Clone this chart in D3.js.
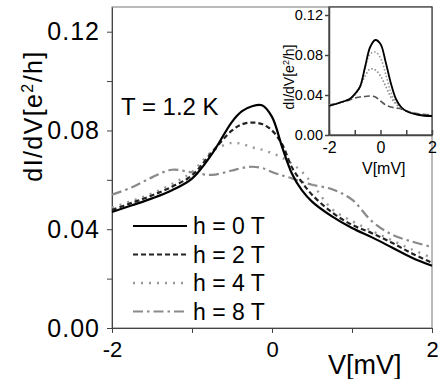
<!DOCTYPE html>
<html>
<head>
<meta charset="utf-8">
<script src="https://cdn.jsdelivr.net/npm/d3@7"></script>
<style>
  body { margin: 0; background: #fff; }
  svg { display: block; font-family: 'Liberation Sans', Arial, sans-serif; }
  .domain { stroke: #444; }
  .tick line { stroke: #444; }
</style>
</head>
<body>
<div id="container"></div>
<script>
// main panel: dI/dV vs V for several fields
const voltages = [-2, -1.75, -1.5, -1.25, -1, -0.75, -0.5, -0.375, -0.25, -0.125, 0,
  0.125, 0.25, 0.375, 0.5, 0.75, 1, 1.25, 1.5, 1.75, 2];
const h0 = [0.047, 0.0497, 0.0525, 0.0558, 0.0605, 0.0705, 0.0835, 0.0878, 0.0898, 0.0902, 0.0855,
  0.0735, 0.0625, 0.0557, 0.0512, 0.0452, 0.0405, 0.0367, 0.0326, 0.0285, 0.0252];
const h2 = [0.0478, 0.0507, 0.0537, 0.0572, 0.0618, 0.0712, 0.08, 0.0825, 0.0832, 0.0826, 0.08,
  0.0745, 0.065, 0.059, 0.054, 0.0468, 0.0418, 0.0384, 0.0345, 0.0302, 0.0264];
const h4 = [0.0488, 0.0515, 0.0545, 0.0583, 0.0632, 0.0715, 0.075, 0.0745, 0.0732, 0.0722, 0.0708,
  0.069, 0.0665, 0.0632, 0.0585, 0.0482, 0.0433, 0.0393, 0.0355, 0.0318, 0.0284];
const h8 = [0.054, 0.057, 0.061, 0.0641, 0.063, 0.062, 0.0638, 0.0648, 0.0653, 0.0648, 0.0632,
  0.0618, 0.0606, 0.0592, 0.058, 0.0562, 0.052, 0.0432, 0.0378, 0.035, 0.0328];
const legendLabels = ['h = 0 T', 'h = 2 T', 'h = 4 T', 'h = 8 T'];

// inset
const insetVoltages = [-2, -1.5, -1.2, -1, -0.8, -0.6, -0.4, -0.2, 0, 0.2, 0.4, 0.6, 0.8, 1, 1.5, 2];
const insetA = [0.029, 0.033, 0.036, 0.041, 0.048, 0.068, 0.088, 0.095, 0.091, 0.073, 0.052, 0.036, 0.028, 0.024, 0.02, 0.019];
const insetB = [0.029, 0.033, 0.036, 0.04, 0.048, 0.067, 0.081, 0.083, 0.077, 0.061, 0.043, 0.032, 0.027, 0.024, 0.02, 0.019];
const insetC = [0.03, 0.033, 0.036, 0.04, 0.048, 0.059, 0.066, 0.065, 0.059, 0.049, 0.038, 0.031, 0.027, 0.024, 0.021, 0.019];
const insetD = [0.03, 0.033, 0.035, 0.037, 0.038, 0.0385, 0.039, 0.038, 0.034, 0.03, 0.028, 0.027, 0.026, 0.024, 0.021, 0.02];

const yTicks = [0, 0.02, 0.04, 0.06, 0.08, 0.1, 0.12];
const yLabelled = [0, 0.04, 0.08, 0.12];
const xTicks = [-2, -1, 0, 1, 2];

const svgWidth = 438;
const svgHeight = 379;

const svg = d3.select('#container')
  .append('svg')
  .attr('width', svgWidth)
  .attr('height', svgHeight);

const styles = [
  { color: '#000', width: 2.2, dash: null },
  { color: '#222', width: 2.2, dash: '5,3' },
  { color: '#999', width: 2.4, dash: '2,6' },
  { color: '#8a8a8a', width: 2.2, dash: '10,4,2.5,4' }
];

// MAIN PANEL
const xScale = d3.scaleLinear().domain([-2, 2]).range([112, 432]);
const yScale = d3.scaleLinear().domain([0, 0.13]).range([328, 7]);

const fmt = d3.format('.2f');

svg.append('rect')
  .attr('x', 112).attr('y', 7)
  .attr('width', 320).attr('height', 321)
  .attr('fill', 'none').attr('stroke', '#777').attr('stroke-width', 1);

svg.append('g')
  .attr('transform', 'translate(0,328)')
  .call(d3.axisBottom(xScale).tickValues(xTicks).tickSize(5).tickSizeOuter(0)
    .tickFormat(d => (d % 2 === 0 ? d : '')))
  .call(g => g.selectAll('text').attr('font-size', 22).attr('fill', '#000').attr('dy', '0.95em'));

svg.append('g')
  .attr('transform', 'translate(112,0)')
  .call(d3.axisLeft(yScale).tickValues(yTicks).tickSize(5).tickSizeOuter(0)
    .tickFormat(d => (yLabelled.some(v => Math.abs(v - d) < 1e-9) ? fmt(d) : '')))
  .call(g => g.selectAll('text').attr('font-size', 25).attr('letter-spacing', 1)
    .attr('fill', '#000').attr('x', -12));

svg.append('text')
  .attr('transform', 'translate(42,116) rotate(-90)')
  .attr('text-anchor', 'middle')
  .attr('font-size', 25)
  .attr('letter-spacing', 1.4)
  .html('dI/dV[e<tspan dy="-9" font-size="16">2</tspan><tspan dy="9">/h]</tspan>');

svg.append('text')
  .attr('x', 328).attr('y', 374)
  .attr('font-size', 27)
  .text('V[mV]');

svg.append('text')
  .attr('x', 121).attr('y', 115)
  .attr('font-size', 24)
  .text('T = 1.2 K');

const line = d3.line()
  .x((d, i) => xScale(voltages[i]))
  .y(d => yScale(d))
  .curve(d3.curveCatmullRom.alpha(0.5));

const series = [h8, h4, h2, h0];
const seriesStyles = [styles[3], styles[2], styles[1], styles[0]];

svg.selectAll('.curve')
  .data(series)
  .enter()
  .append('path')
  .attr('class', 'curve')
  .attr('d', d => line(d))
  .attr('fill', 'none')
  .attr('stroke', (d, i) => seriesStyles[i].color)
  .attr('stroke-width', (d, i) => seriesStyles[i].width)
  .attr('stroke-dasharray', (d, i) => seriesStyles[i].dash);

// Legend
const legend = svg.selectAll('.legend')
  .data(legendLabels)
  .enter()
  .append('g')
  .attr('class', 'legend')
  .attr('transform', (d, i) => `translate(0, ${226 + i * 28.5})`);

legend.append('line')
  .attr('x1', 133).attr('x2', 187)
  .attr('stroke', (d, i) => styles[i].color)
  .attr('stroke-width', (d, i) => styles[i].width)
  .attr('stroke-dasharray', (d, i) => styles[i].dash);

legend.append('text')
  .attr('x', 193).attr('y', 8)
  .attr('font-size', 23)
  .text(d => d);

// INSET
const ix = d3.scaleLinear().domain([-2, 2]).range([329, 432]);
const iy = d3.scaleLinear().domain([0, 0.128]).range([135, 7]);

svg.append('rect')
  .attr('x', 329).attr('y', 7)
  .attr('width', 103).attr('height', 128)
  .attr('fill', '#fff').attr('stroke', '#333').attr('stroke-width', 1.2);

svg.append('g')
  .attr('transform', 'translate(0,135)')
  .call(d3.axisBottom(ix).tickValues(xTicks).tickSize(-5).tickSizeOuter(0)
    .tickFormat(d => (d % 2 === 0 ? d : '')))
  .call(g => g.select('.domain').attr('stroke', '#111').attr('stroke-width', 1.5))
  .call(g => g.selectAll('.tick line').attr('stroke', '#111').attr('stroke-width', 1.5))
  .call(g => g.selectAll('text').attr('font-size', 16).attr('fill', '#000').attr('y', 5).attr('dy', '0.8em'));

svg.append('g')
  .attr('transform', 'translate(329,0)')
  .call(d3.axisLeft(iy).tickValues(yLabelled).tickSize(4).tickSizeOuter(0).tickFormat(fmt))
  .call(g => g.select('.domain').attr('stroke', '#111').attr('stroke-width', 1.5))
  .call(g => g.selectAll('.tick line').attr('stroke', '#111').attr('stroke-width', 1.5))
  .call(g => g.selectAll('text').attr('font-size', 14.5).attr('fill', '#000').attr('x', -6));

svg.append('text')
  .attr('transform', 'translate(294,77) rotate(-90)')
  .attr('text-anchor', 'middle')
  .attr('font-size', 14)
  .html('dI/dV[e<tspan dy="-5" font-size="9">2</tspan><tspan dy="5">/h]</tspan>');

svg.append('text')
  .attr('x', 362).attr('y', 174)
  .attr('font-size', 16)
  .text('V[mV]');

const insetLine = d3.line()
  .x((d, i) => ix(insetVoltages[i]))
  .y(d => iy(d))
  .curve(d3.curveCatmullRom.alpha(0.5));

const insetSeries = [insetD, insetC, insetB, insetA];
const insetStyles = [
  { color: '#555', width: 1.6, dash: '6,3' },
  { color: '#888', width: 1.6, dash: '1.5,2' },
  { color: '#999', width: 1.6, dash: '1.5,2' },
  { color: '#000', width: 1.8, dash: null }
];

svg.selectAll('.inset-curve')
  .data(insetSeries)
  .enter()
  .append('path')
  .attr('class', 'inset-curve')
  .attr('d', d => insetLine(d))
  .attr('fill', 'none')
  .attr('stroke', (d, i) => insetStyles[i].color)
  .attr('stroke-width', (d, i) => insetStyles[i].width)
  .attr('stroke-dasharray', (d, i) => insetStyles[i].dash);
</script>
</body>
</html>
